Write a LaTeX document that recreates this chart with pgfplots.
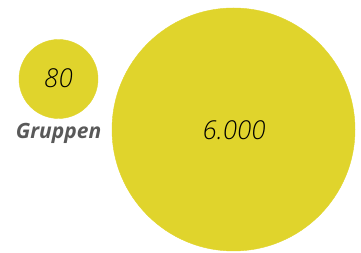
\documentclass[border=0pt]{standalone}
\usepackage{pgfplots}
\pgfplotsset{compat=1.18}
\usepackage{fontspec}
\setmainfont{Open Sans}
\newfontfamily\lightfont{Open Sans Light}
\definecolor{bub}{RGB}{224,212,44}
\definecolor{lab}{RGB}{89,89,89}
\begin{document}
\begin{tikzpicture}
\begin{axis}[
  scale only axis, width=361pt, height=253pt,
  xmin=0, xmax=361, ymin=0, ymax=253,
  hide axis, clip=false,
]
\path (axis cs:0,0) rectangle (axis cs:361,253);
% Gruppen: 80 (small), 6.000 (large)
\addplot[only marks, mark=*, mark size=39.5pt, color=bub, mark options={draw=none, fill=bub}] coordinates {(58.5,174)};
\addplot[only marks, mark=*, mark size=121.5pt, color=bub, mark options={draw=none, fill=bub}] coordinates {(233.5,123.5)};
\coordinate (s) at (axis cs:58.5,175);
\coordinate (b) at (axis cs:234,123);
\coordinate (g) at (axis cs:58.5,120);
\end{axis}
\node[font=\fontsize{26}{26}\selectfont\lightfont\itshape] at (s) {80};
\node[font=\fontsize{26}{26}\selectfont\lightfont\itshape] at (b) {6.000};
\node[font=\fontsize{21}{21}\selectfont\bfseries\itshape, text=lab] at (g) {Gruppen};
\end{tikzpicture}
\end{document}
